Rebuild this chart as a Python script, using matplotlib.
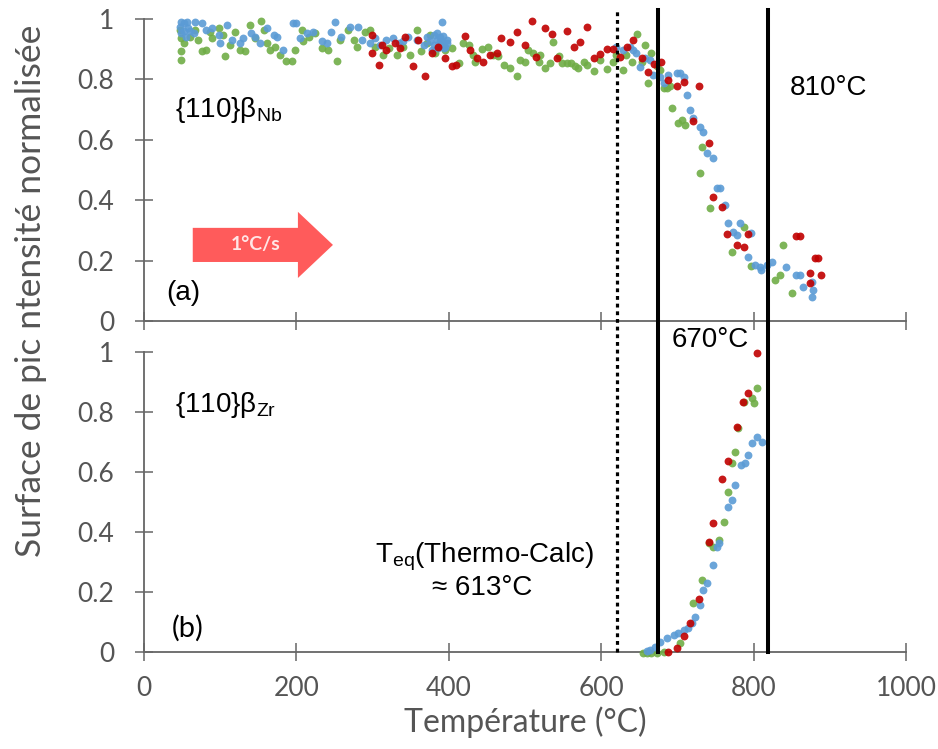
import matplotlib
matplotlib.use("Agg")
import matplotlib.pyplot as plt
from matplotlib.lines import Line2D
from matplotlib.patches import FancyArrow
from matplotlib.transforms import blended_transform_factory

plt.rcParams["mathtext.fontset"] = "custom"
plt.rcParams["mathtext.rm"] = "Liberation Sans"

# ---- panel (a): {110} beta-Nb peak area ----
a_blue_x = [49, 56, 52, 47, 58, 49, 65, 67, 76, 82, 89, 98, 100, 109, 115, 126, 130,
            141, 146, 152, 161, 170, 174, 183, 196, 200, 205, 214, 222, 233, 240, 246,
            251, 259, 270, 281, 286, 297, 303, 310, 318, 327, 334, 340, 347, 358, 367,
            371, 375, 380, 384, 388, 391, 393, 395, 397, 386, 378, 385, 392, 398, 380,
            388, 394, 53, 55, 60,
            620, 629, 638, 642, 646, 651, 658, 664, 668, 677, 682, 688, 699, 704, 708,
            712, 717, 721, 730, 734, 739, 747, 752, 756, 762, 767, 773, 778, 782, 797,
            793, 802, 808, 810, 817, 824, 843, 856, 861, 865, 876, 878, 876]
a_blue_y = [0.99, 0.99, 0.986, 0.975, 0.970, 0.953, 0.953, 0.99, 0.986, 0.964, 0.970,
            0.948, 0.920, 0.981, 0.931, 0.920, 0.937, 0.953, 0.942, 0.920, 0.970, 0.948,
            0.942, 0.898, 0.986, 0.986, 0.937, 0.953, 0.958, 0.926, 0.920, 0.958, 0.99,
            0.942, 0.975, 0.975, 0.931, 0.920, 0.937, 0.915, 0.931, 0.937, 0.920, 0.926,
            0.942, 0.931, 0.915, 0.942, 0.926, 0.948, 0.953, 0.942, 0.99, 0.920, 0.909,
            0.931, 0.904, 0.898, 0.930, 0.945, 0.920, 0.915, 0.925, 0.905, 0.960, 0.940,
            0.960,
            0.908, 0.897, 0.908, 0.897, 0.886, 0.842, 0.870, 0.864, 0.815, 0.809, 0.787,
            0.815, 0.820, 0.820, 0.809, 0.748, 0.699, 0.671, 0.644, 0.627, 0.555, 0.539,
            0.439, 0.439, 0.384, 0.323, 0.296, 0.285, 0.323, 0.290, 0.213, 0.186, 0.180,
            0.169, 0.186, 0.194, 0.180, 0.152, 0.152, 0.114, 0.130, 0.103, 0.081]

a_green_x = [47, 49, 52, 49, 49, 60, 67, 71, 76, 82, 87, 89, 98, 104, 106, 113, 119,
             126, 133, 139, 146, 154, 157, 161, 165, 172, 179, 187, 194, 198, 207, 209,
             216, 224, 233, 242, 253, 257, 268, 275, 279, 290, 297, 303, 314, 321, 332,
             340, 349, 358, 364, 371, 375, 382, 388, 395, 404, 413, 419, 426,
             432, 434, 443, 452, 458, 465, 472, 480, 489, 493, 500, 504, 511, 520, 518,
             526, 533, 537, 544, 548, 555, 561, 566, 570, 577, 581, 590, 598, 607, 616,
             620, 629, 633, 640, 647, 653, 658, 662, 666, 673, 677, 682, 686, 690, 693,
             701, 706, 710, 732, 730, 743, 787, 771, 797, 828, 834, 839, 851]
a_green_y = [0.964, 0.937, 0.920, 0.893, 0.865, 0.942, 0.964, 0.931, 0.893, 0.898, 0.958,
             0.937, 0.970, 0.948, 0.876, 0.915, 0.958, 0.898, 0.893, 0.981, 0.937, 0.995,
             0.964, 0.920, 0.898, 0.909, 0.882, 0.860, 0.860, 0.898, 0.964, 0.926, 0.942,
             0.953, 0.904, 0.898, 0.860, 0.931, 0.964, 0.931, 0.909, 0.958, 0.964, 0.909,
             0.882, 0.904, 0.882, 0.909, 0.882, 0.964, 0.893, 0.920, 0.948, 0.887, 0.915,
             0.898, 0.904, 0.854, 0.920, 0.915,
             0.881, 0.859, 0.900, 0.909, 0.881, 0.876, 0.848, 0.837, 0.810, 0.865, 0.859,
             0.898, 0.887, 0.881, 0.859, 0.837, 0.854, 0.925, 0.876, 0.854, 0.854, 0.854,
             0.843, 0.837, 0.859, 0.848, 0.829, 0.865, 0.834, 0.859, 0.881, 0.830, 0.881,
             0.859, 0.951, 0.859, 0.914, 0.788, 0.887, 0.843, 0.832, 0.771, 0.771, 0.777,
             0.705, 0.656, 0.667, 0.650, 0.577, 0.489, 0.373, 0.312, 0.230, 0.183, 0.136,
             0.152, 0.252, 0.092]

a_red_x = [299, 299, 308, 312, 318, 329, 336, 343, 353, 360, 369, 378, 386, 395, 404,
           410, 421, 428, 437, 445, 454, 463, 469, 480, 489, 500, 509, 515, 526, 535,
           542, 555, 564, 572, 581, 590, 599, 607, 616, 625, 634, 642, 653, 662, 669,
           679, 688, 699, 708, 728, 720, 742, 747, 759, 765, 793, 778, 787, 855, 861,
           881, 885, 874, 889, 874]
a_red_y = [0.948, 0.887, 0.849, 0.915, 0.898, 0.920, 0.904, 0.942, 0.843, 0.931, 0.810,
           0.887, 0.909, 0.871, 0.843, 0.849, 0.944, 0.897, 0.870, 0.859, 0.881, 0.886,
           0.936, 0.925, 0.956, 0.914, 0.995, 0.875, 0.969, 0.949, 0.870, 0.961, 0.906,
           0.925, 0.975, 0.870, 0.884, 0.900, 0.900, 0.875, 0.906, 0.930, 0.870, 0.826,
           0.851, 0.859, 0.798, 0.778, 0.793, 0.778, 0.663, 0.588, 0.410, 0.379, 0.287,
           0.287, 0.252, 0.246, 0.282, 0.282, 0.208, 0.208, 0.158, 0.152, 0.127]

# ---- panel (b): {110} beta-Zr peak area ----
b_blue_x = [660, 664, 671, 677, 686, 695, 701, 708, 714, 719, 723, 730, 734, 739, 747,
            752, 754, 766, 771, 776, 783, 789, 793, 798, 805, 811]
b_blue_y = [0.003, 0.007, 0.018, 0.034, 0.046, 0.057, 0.062, 0.073, 0.079, 0.096, 0.118,
            0.157, 0.207, 0.229, 0.290, 0.351, 0.362, 0.484, 0.507, 0.557, 0.623, 0.629,
            0.657, 0.696, 0.718, 0.701]

b_green_x = [655, 660, 666, 673, 682, 703, 721, 732, 741, 747, 754, 761, 766, 776, 771,
             780, 787, 798, 800, 805]
b_green_y = [-0.003, -0.003, -0.004, -0.002, 0.001, 0.029, 0.162, 0.240, 0.362, 0.351,
             0.373, 0.434, 0.534, 0.668, 0.629, 0.746, 0.834, 0.846, 0.829, 0.879]

b_red_x = [688, 699, 708, 717, 728, 742, 747, 758, 766, 778, 786, 793, 805]
b_red_y = [0.001, 0.012, 0.053, 0.096, 0.176, 0.368, 0.429, 0.576, 0.638, 0.749, 0.834,
           0.862, 0.996]

# reference temperatures (°C) for the vertical markers
T_EQ_LINE = 621
T_START = 675
T_END = 819

X_TICKS = [0, 200, 400, 600, 800, 1000]
Y_TICKS = [0, 0.2, 0.4, 0.6, 0.8, 1]
Y_TICK_LABELS = ["0", "0.2", "0.4", "0.6", "0.8", "1"]

BLUE = "#5B9BD5"
GREEN = "#70AD47"
RED = "#C00000"
AXIS_GREY = "#666666"
TICK_TEXT = "#555555"
LABEL_FONT = "Lato"
ANNOT_FONT = "Liberation Sans"

fig = plt.figure(figsize=(9.38, 7.49), dpi=100)
ax_a = fig.add_axes([0.1535, 0.5714, 0.8124, 0.4032])
ax_b = fig.add_axes([0.1535, 0.1295, 0.8124, 0.4005])


def style_axes(ax, show_xlabels):
    ax.set_xlim(0, 1000)
    ax.set_ylim(0, 1)
    for side in ("top", "right"):
        ax.spines[side].set_visible(False)
    for side in ("left", "bottom"):
        ax.spines[side].set_color(AXIS_GREY)
        ax.spines[side].set_linewidth(1.3)
    ax.set_xticks(X_TICKS)
    ax.set_yticks(Y_TICKS)
    ax.set_yticklabels(Y_TICK_LABELS)
    ax.tick_params(axis="both", direction="inout", length=13, width=1.1,
                   color=AXIS_GREY, labelcolor=TICK_TEXT, labelsize=19)
    ax.tick_params(axis="y", pad=15)
    ax.tick_params(axis="x", pad=11, labelbottom=show_xlabels)
    for lab in ax.get_xticklabels() + ax.get_yticklabels():
        lab.set_fontfamily(LABEL_FONT)
    ax.patch.set_visible(False)


def scatter_series(ax, xs, ys, color):
    ax.scatter(xs, ys, s=32, color=color, alpha=0.9, linewidths=0, clip_on=False,
               zorder=3)


style_axes(ax_a, False)
style_axes(ax_b, True)

scatter_series(ax_a, a_green_x, a_green_y, GREEN)
scatter_series(ax_a, a_blue_x, a_blue_y, BLUE)
scatter_series(ax_a, a_red_x, a_red_y, RED)
scatter_series(ax_b, b_green_x, b_green_y, GREEN)
scatter_series(ax_b, b_blue_x, b_blue_y, BLUE)
scatter_series(ax_b, b_red_x, b_red_y, RED)

# vertical markers spanning both panels
trans = blended_transform_factory(ax_b.transData, fig.transFigure)
y_lo, y_hi = 0.1295, 0.9866
fig.add_artist(Line2D([T_EQ_LINE, T_EQ_LINE], [y_lo, y_hi], transform=trans,
                      color="black", lw=2.3, linestyle=(0, (1.2, 1.2))))
for t in (T_START, T_END):
    fig.add_artist(Line2D([t, t], [y_lo, y_hi], transform=trans, color="black",
                          lw=2.9))

# heating-rate arrow
ax_a.add_patch(FancyArrow(64, 0.252, 184, 0, width=0.113, head_width=0.219,
                          head_length=46, length_includes_head=True,
                          color="#FF5252", alpha=0.95, linewidth=0, zorder=4))
ax_a.text(146, 0.254, "1°C/s", color="#FFE6E6", fontsize=14, fontweight="bold",
          family=LABEL_FONT, ha="center", va="center", zorder=5)

annot = dict(fontsize=20, family=ANNOT_FONT, color="black")
ax_a.text(41, 0.70, r"{110}β$_{\mathregular{Nb}}$", ha="left", va="center", **annot)
ax_a.text(848, 0.772, "810°C", ha="left", va="center", **annot)
ax_a.text(29, 0.093, "(a)", ha="left", va="center", **annot)

ax_b.text(41, 0.823, r"{110}β$_{\mathregular{Zr}}$", ha="left", va="center", **annot)
ax_b.text(693, 1.04, "670°C", ha="left", va="center", **annot)
ax_b.text(447, 0.317, r"T$_{\mathregular{eq}}$(Thermo-Calc)", ha="center",
          va="center", **annot)
ax_b.text(444, 0.213, "≈ 613°C", ha="center", va="center", **annot)
ax_b.text(36, 0.08, "(b)", ha="left", va="center", fontsize=21, family=LABEL_FONT,
          color="black")

fig.text(0.5597, 0.036, "Température (°C)", ha="center", va="center", fontsize=23,
         family=LABEL_FONT, color=TICK_TEXT)
fig.text(0.033, 0.612, "Surface de pic ntensité normalisée", ha="center",
         va="center", rotation=90, fontsize=25.5, family=LABEL_FONT, color=TICK_TEXT)

fig.savefig("out.png", dpi=100)
